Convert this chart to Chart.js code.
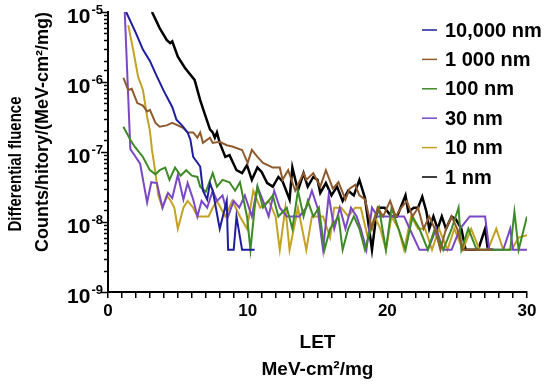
<!DOCTYPE html>
<html>
<head>
<meta charset="utf-8">
<script src="https://cdn.jsdelivr.net/npm/chart.js@4.4.1/dist/chart.umd.min.js"></script>
<style>
  html, body { margin: 0; padding: 0; background: #fff; }
  #wrap { width: 550px; height: 387px; }
</style>
</head>
<body>
<div id="wrap"><canvas id="letChart" width="550" height="387"></canvas></div>
<script>
// ── data: [LET, differential fluence] ──────────────────────────────
const seriesLabels = ['10,000 nm', '1 000 nm', '100 nm', '30 nm', '10 nm', '1 nm'];
const seriesColors = ['#1e1e9e', '#8e5a2e', '#3e8a26', '#7a48c4', '#c4a224', '#000000'];

const nm10000 = [[1.3,1e-5],[2.0,5e-6],[2.5,2.9e-6],[3.0,2e-6],[3.5,1.2e-6],[4.0,7.4e-7],[4.6,4.4e-7],[4.9,2.9e-7],
  [5.3,2.4e-7],[5.7,1.9e-7],[5.9,1.5e-7],[6.1,8.5e-8],[6.6,6.2e-8],[6.8,2.8e-8],[7.1,2.1e-8],[7.3,3.6e-8],[7.5,2.8e-8],
  [8.0,8e-9],[8.5,2e-8],[8.6,4e-9],[9.0,4e-9],[9.2,1.2e-8],[9.6,4e-9],[10.5,4e-9]];

const nm1000 = [[1.1,1.15e-6],[1.45,7.7e-7],[1.7,8e-7],[2.1,5e-7],[2.5,4.6e-7],[2.8,3.8e-7],[3.0,4e-7],[3.4,2.6e-7],
  [3.7,2.3e-7],[4.2,2.4e-7],[4.6,2.6e-7],[5.0,2.4e-7],[5.4,2.2e-7],[5.7,1.9e-7],[6.1,1.9e-7],[6.4,1.6e-7],[6.6,1.9e-7],
  [6.8,1.35e-7],[7.3,1.6e-7],[7.5,1.35e-7],[8.0,1.4e-7],[8.5,1.25e-7],[8.9,1.2e-7],[9.6,1.07e-7],[10.0,7e-8],[10.3,1.07e-7],
  [10.7,8.5e-8],[11.1,7e-8],[11.8,6e-8],[12.3,6e-8],[12.5,4e-8],[12.9,5.5e-8],[13.4,2.8e-8],[14.0,5e-8],[14.2,4e-8],
  [14.7,5e-8],[15.2,3.2e-8],[15.6,5.5e-8],[16.1,3e-8],[16.5,3.7e-8],[17.0,2.1e-8],[17.3,3e-8],[17.7,3.4e-8],[18.0,2.4e-8],
  [18.4,2.1e-8],[18.9,8e-9],[19.3,1.6e-8],[19.7,1.2e-8],[20.2,2e-8],[20.6,1.2e-8],[21.0,1.6e-8],[21.4,2e-8],[21.8,1.2e-8],
  [22.2,1.6e-8],[22.6,8e-9],[23.0,1.2e-8],[23.4,8e-9],[23.8,4e-9],[24.2,8e-9],[24.6,1.2e-8],[25.0,8e-9],[25.4,4e-9],
  [26.5,4e-9],[27.5,4e-9]];

const nm100 = [[1.1,2.3e-7],[1.6,1.5e-7],[1.9,1.2e-7],[2.5,8.5e-8],[3.0,5.5e-8],[3.4,4.8e-8],[3.7,5.5e-8],[4.1,6e-8],
  [4.4,4e-8],[4.8,6e-8],[5.2,4.6e-8],[5.6,5.5e-8],[6.0,4.6e-8],[6.4,4.4e-8],[6.6,3.2e-8],[7.0,2.7e-8],[7.5,5e-8],
  [7.8,3.2e-8],[8.2,4e-8],[8.7,3.7e-8],[9.1,2.8e-8],[9.45,3.7e-8],[9.95,1.2e-8],[10.2,4e-9],[10.5,1.6e-8],[10.7,3.2e-8],
  [11.1,1.6e-8],[11.5,2e-8],[11.8,2.4e-8],[12.2,1.2e-8],[12.8,1.6e-8],[13.2,8e-9],[13.6,2.8e-8],[14.0,1.2e-8],[14.3,2e-8],
  [14.7,1.2e-8],[15.1,1.6e-8],[15.5,4e-9],[15.9,8e-9],[16.5,1.2e-8],[16.8,4e-9],[17.2,8e-9],[17.6,1.2e-8],[18.0,8e-9],
  [18.4,4e-9],[18.8,8e-9],[19.4,1.6e-8],[19.9,4e-9],[20.3,1.6e-8],[20.8,8e-9],[21.3,4e-9],[21.8,1.2e-8],[22.3,8e-9],
  [22.9,4e-9],[23.4,8e-9],[24.0,4e-9],[24.6,8e-9],[25.1,1.6e-8],[25.3,4e-9],[25.8,8e-9],[26.4,4e-9],[27.0,4e-9],
  [27.6,4e-9],[28.1,4e-9],[28.8,4e-9],[29.1,1.4e-8],[29.4,4e-9],[30.0,1.2e-8]];

const nm30 = [[1.2,1e-5],[1.6,1.1e-7],[1.9,9e-8],[2.3,6.8e-8],[2.8,1.9e-8],[3.1,3.7e-8],[3.5,3.6e-8],[3.9,1.6e-8],
  [4.3,2.6e-8],[4.6,2.2e-8],[5.0,4.7e-8],[5.4,2.1e-8],[5.7,3.6e-8],[6.1,2.1e-8],[6.4,1.2e-8],[6.7,2e-8],[7.1,1.6e-8],
  [7.5,2.8e-8],[7.8,2e-8],[8.2,2.4e-8],[8.6,1.2e-8],[9.0,2e-8],[9.4,1.6e-8],[9.8,2.4e-8],[10.3,1.2e-8],[10.7,3.2e-8],
  [11.1,2e-8],[11.5,1.2e-8],[11.9,2.8e-8],[12.3,1.6e-8],[12.8,1.2e-8],[13.2,1.2e-8],[13.7,1.2e-8],[14.2,1.6e-8],
  [14.6,2.8e-8],[15.0,1.6e-8],[15.4,4e-9],[15.8,2.4e-8],[16.2,8e-9],[16.6,1.6e-8],[17.0,8e-9],[17.4,1.6e-8],[17.8,1.2e-8],
  [18.1,8e-9],[18.5,4e-9],[18.9,1.6e-8],[19.3,1.2e-8],[19.7,1.2e-8],[20.0,1.2e-8],[20.4,1.2e-8],[20.8,1.2e-8],[21.2,1.2e-8],
  [21.6,8e-9],[22.3,4e-9],[22.9,4e-9],[23.5,8e-9],[24.0,4e-9],[24.6,4e-9],[25.2,8e-9],[25.9,1.2e-8],[26.5,1.2e-8],
  [27.0,1.2e-8],[27.3,4e-9],[27.8,4e-9],[28.3,4e-9],[28.8,8e-9],[29.0,4e-9],[29.5,4e-9],[30.0,4e-9]];

const nm10 = [[1.45,6.5e-6],[1.8,2.9e-6],[2.15,1.2e-6],[2.5,7.7e-7],[2.8,3.2e-7],[3.0,2e-7],[3.15,1.07e-7],[3.4,5e-8],
  [3.6,2.4e-8],[3.9,1.6e-8],[4.2,2.4e-8],[4.5,2e-8],[4.75,1.6e-8],[5.0,8e-9],[5.4,1.6e-8],[5.7,2e-8],[6.1,1.6e-8],
  [6.4,1.2e-8],[6.8,1.2e-8],[7.2,1.2e-8],[7.5,1.6e-8],[7.8,2e-8],[8.4,1.2e-8],[8.9,2e-8],[9.45,1.2e-8],[9.95,8e-9],
  [10.4,2.8e-8],[10.9,1.6e-8],[11.5,2e-8],[12.0,1.2e-8],[12.3,4e-9],[12.7,1.6e-8],[13.0,4e-9],[13.6,1.6e-8],[14.2,4e-9],
  [14.6,1.2e-8],[15.4,1.2e-8],[15.9,6e-9],[16.2,1.6e-8],[16.7,1.6e-8],[17.2,1.2e-8],[17.7,1.6e-8],[18.1,1.6e-8],
  [18.6,6e-9],[19.1,1.2e-8],[19.5,8e-9],[19.9,4e-9],[20.3,1.2e-8],[20.8,8e-9],[21.2,4e-9],[21.7,1.2e-8],[22.2,8e-9],
  [22.7,8e-9],[23.2,4e-9],[23.7,8e-9],[24.3,4e-9],[24.8,8e-9],[25.4,4e-9],[26.0,8e-9],[26.6,4e-9],[27.2,4e-9],
  [27.8,8e-9],[28.3,4e-9],[28.9,4e-9],[29.4,6e-9],[30.0,6.5e-9]];

const nm1 = [[3.15,1e-5],[3.7,5.9e-6],[4.2,4e-6],[4.45,3.6e-6],[4.6,3.8e-6],[5.0,2.3e-6],[5.5,1.6e-6],[6.2,1.07e-6],
  [6.6,5.5e-7],[6.95,3.4e-7],[7.3,2.1e-7],[7.5,1.9e-7],[7.65,1.6e-7],[7.8,1.9e-7],[8.0,1.35e-7],[8.4,8.5e-8],[8.7,9e-8],
  [9.2,5.5e-8],[9.6,5e-8],[9.95,6.5e-8],[10.3,4e-8],[10.7,6e-8],[11.0,5.2e-8],[11.4,3.6e-8],[11.8,3.2e-8],[12.2,4.4e-8],
  [12.5,3.8e-8],[13.0,2.1e-8],[13.2,6e-8],[13.6,2.8e-8],[14.0,5e-8],[14.3,3.2e-8],[14.7,4.4e-8],[15.0,4e-8],[15.2,2.6e-8],
  [15.6,3.6e-8],[16.0,2.4e-8],[16.4,3.2e-8],[16.8,2e-8],[17.2,2.8e-8],[17.6,2.4e-8],[18.0,4e-8],[18.4,2.2e-8],[18.9,4e-9],
  [19.2,1.2e-8],[19.4,1.6e-8],[19.8,1.6e-8],[20.3,1.2e-8],[20.7,1.2e-8],[21.3,2.4e-8],[21.5,1.4e-8],[21.9,1.6e-8],
  [22.2,1.6e-8],[22.5,2.3e-8],[22.8,1.4e-8],[23.0,8e-9],[23.3,1.2e-8],[23.6,8e-9],[23.9,1.2e-8],[24.2,8e-9],[24.6,1.2e-8],
  [24.9,1.1e-8],[25.3,8e-9],[25.6,4e-9],[26.5,4e-9],[27.0,8e-9],[27.2,4e-9],[27.6,4e-9]];

const seriesData = [nm10000, nm1000, nm100, nm30, nm10, nm1];

const yTickExps = [-5, -6, -7, -8, -9];
const xTickLabels = [0, 10, 20, 30];
const yTitleLines = ['Differential fluence', 'Counts/hitory/(MeV-cm²/mg)'];
const xTitleLines = ['LET', 'MeV-cm²/mg'];

const FONT = '"Liberation Sans", Arial, sans-serif';

// rotated text squeezed along its own direction to a target length
function drawRotated(ctx, text, cx, cy, size, targetLen) {
  ctx.save();
  ctx.translate(cx, cy);
  ctx.rotate(-Math.PI / 2);
  ctx.font = 'bold ' + size + 'px ' + FONT;
  const w = ctx.measureText(text).width;
  if (targetLen && w > targetLen) ctx.scale(targetLen / w, 1);
  ctx.fillText(text, 0, 0);
  ctx.restore();
}

// ── custom drawing: y ticks with superscripts, y title, legend ─────
const axisExtras = {
  id: 'axisExtras',
  afterDraw(chart) {
    const ctx = chart.ctx;
    const ys = chart.scales.y;
    const left = chart.chartArea.left;
    ctx.save();
    ctx.strokeStyle = '#000';
    ctx.lineWidth = 1.5;
    ys.ticks.forEach(t => {
      const p = Math.round(ys.getPixelForValue(t.value)) + 0.5;
      const lg = Math.log10(t.value);
      const major = Math.abs(lg - Math.round(lg)) < 1e-6;
      const len = major ? 7 : 4;
      ctx.beginPath();
      ctx.moveTo(left - len, p);
      ctx.lineTo(left, p);
      ctx.stroke();
    });

    ctx.fillStyle = '#000';
    ctx.textAlign = 'right';
    ctx.textBaseline = 'middle';
    yTickExps.forEach(e => {
      const p = ys.getPixelForValue(Math.pow(10, e));
      ctx.font = 'bold 13px ' + FONT;
      const sup = String(e);
      const w = ctx.measureText(sup).width;
      ctx.fillText(sup, 103, p - 2);
      ctx.font = 'bold 21px ' + FONT;
      ctx.fillText('10', 103 - w - 1, p + 5);
    });

    // y title, two rotated lines
    ctx.textAlign = 'center';
    drawRotated(ctx, yTitleLines[0], 16, 164, 18, 135);
    drawRotated(ctx, yTitleLines[1], 43, 132, 18, 244);

    // legend
    ctx.textAlign = 'left';
    ctx.font = 'bold 20px ' + FONT;
    chart.data.datasets.forEach((ds, i) => {
      const y = 30 + i * 29.4;
      ctx.strokeStyle = ds.borderColor;
      ctx.lineWidth = 1.5;
      ctx.beginPath();
      ctx.moveTo(422, y);
      ctx.lineTo(437, y);
      ctx.stroke();
      ctx.fillStyle = '#000';
      ctx.fillText(ds.label, 445, y + 1);
    });
    ctx.restore();
  }
};

new Chart(document.getElementById('letChart'), {
  type: 'line',
  data: {
    datasets: seriesData.map((pts, i) => ({
      label: seriesLabels[i],
      data: pts.map(([x, y]) => ({ x, y })),
      borderColor: seriesColors[i],
      backgroundColor: seriesColors[i],
      borderWidth: i === 5 ? 2.5 : 2,
      pointRadius: 0,
      tension: 0,
      fill: false,
    }))
  },
  options: {
    responsive: false,
    animation: false,
    devicePixelRatio: 1,
    layout: { padding: { top: 12, right: 23, left: 0, bottom: 0 } },
    plugins: { legend: { display: false }, tooltip: { enabled: false } },
    scales: {
      x: {
        type: 'linear', min: 0, max: 30,
        afterFit: s => { s.height = 95; },
        border: { display: true, color: '#000', width: 2 },
        grid: { display: true, drawOnChartArea: false, drawTicks: true, tickLength: 6, color: '#000', lineWidth: 1.5 },
        ticks: {
          stepSize: 1, autoSkip: false, maxRotation: 0, padding: 3, color: '#000',
          font: { family: FONT, size: 17, weight: 'bold' },
          callback: v => xTickLabels.includes(v) ? String(v) : ''
        },
        title: {
          display: true, text: xTitleLines, color: '#000',
          font: { family: FONT, size: 19, weight: 'bold', lineHeight: '27px' },
          padding: { top: 0, bottom: 4 }
        }
      },
      y: {
        type: 'logarithmic', min: 1e-9, max: 1e-5,
        afterFit: s => { s.width = 108; },
        border: { display: true, color: '#000', width: 2 },
        grid: { display: false },
        ticks: { display: false }
      }
    }
  },
  plugins: [axisExtras]
});
</script>
</body>
</html>
